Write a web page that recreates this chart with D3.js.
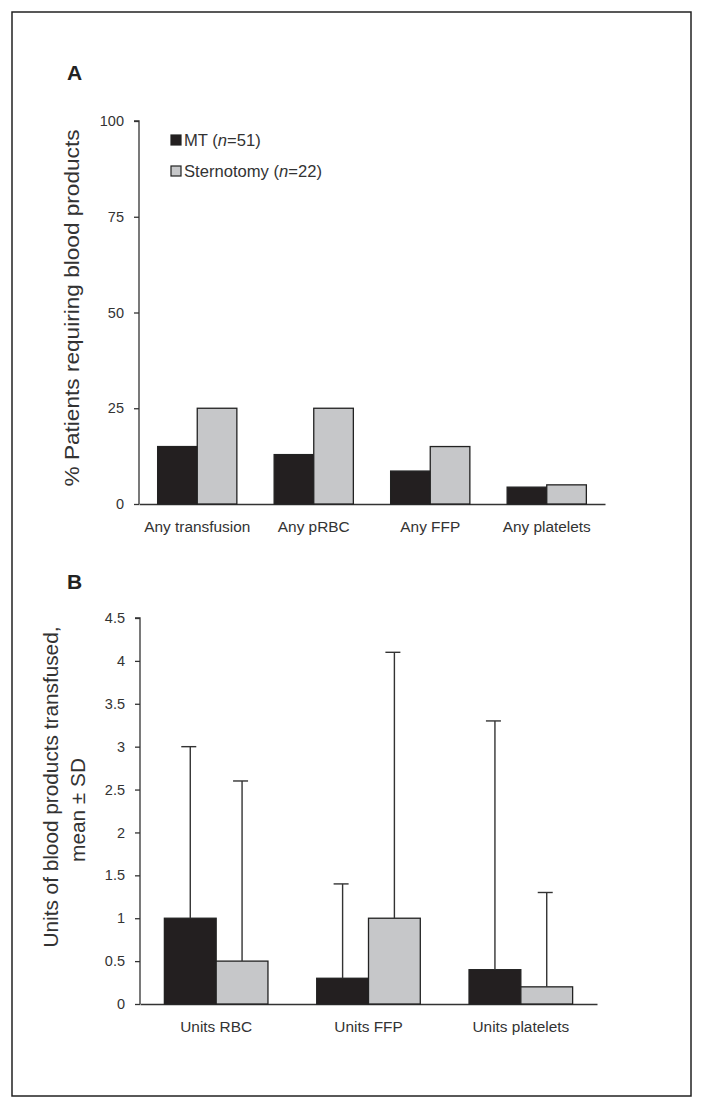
<!DOCTYPE html>
<html>
<head>
<meta charset="utf-8">
<script src="https://cdn.jsdelivr.net/npm/d3@7"></script>
<style>
  html, body { margin: 0; padding: 0; background: #fff; }
  svg { display: block; font-family: "Liberation Sans", Arial, sans-serif; }
</style>
</head>
<body>
<svg id="chart" width="704" height="1109"></svg>
<script>
// ---------- Data ----------
const seriesNames = ["MT", "Sternotomy"];
const seriesN = [51, 22];
const seriesColors = ["#231f20", "#c6c7c9"];

// Panel A
const catsA = ["Any transfusion", "Any pRBC", "Any FFP", "Any platelets"];
const mtA = [15, 12.9, 8.6, 4.4];
const sternA = [25, 25, 15, 5];
const ticksA = [0, 25, 50, 75, 100];

// Panel B
const catsB = ["Units RBC", "Units FFP", "Units platelets"];
const mtB = [1.0, 0.3, 0.4];
const sternB = [0.5, 1.0, 0.2];
const mtB_upper = [3.0, 1.4, 3.3];
const sternB_upper = [2.6, 4.1, 1.3];
const ticksB = [0, 0.5, 1, 1.5, 2, 2.5, 3, 3.5, 4, 4.5];

// ---------- Drawing ----------
const svg = d3.select("#chart");
const textColor = "#333";
const fontTick = 14.5;
const fontCat = 15.4;

// Border
svg.append("rect").attr("x", 12).attr("y", 12).attr("width", 679).attr("height", 1084)
  .attr("fill", "none").attr("stroke", "#222").attr("stroke-width", 1.5);

function panel(opts) {
  const { cats, s1, s2, ticks, domainMax, x0, x1, yTop, yBottom, fmt } = opts;
  const g = svg.append("g");
  const x = d3.scaleBand().domain(cats).range([x0, x1]).padding(0);
  const bw = x.bandwidth();
  const inner = d3.scaleBand().domain([0, 1]).range([bw * 0.16, bw * 0.84]).padding(0);
  const y = d3.scaleLinear().domain([0, domainMax]).range([yBottom, yTop]);

  // y axis
  const yAxis = d3.axisLeft(y).tickValues(ticks).tickSize(5).tickPadding(10).tickFormat(fmt);
  const ya = g.append("g").attr("transform", `translate(${x0},0)`).call(yAxis);
  ya.select(".domain").attr("stroke", "#333").attr("stroke-width", 1.3).attr("d", `M-5,${yTop}H0V${yBottom}`);
  ya.selectAll(".tick line").attr("stroke", "#333").attr("stroke-width", 1.3);
  ya.selectAll(".tick text").attr("fill", textColor).attr("font-size", fontTick)
    .attr("font-family", "Liberation Sans, Arial, sans-serif");

  // x axis
  const xAxis = d3.axisBottom(x).tickSize(0).tickPadding(17);
  const xa = g.append("g").attr("transform", `translate(0,${yBottom})`).call(xAxis);
  xa.select(".domain").attr("stroke", "#333").attr("stroke-width", 1.3);
  xa.selectAll(".tick text").attr("fill", textColor).attr("font-size", fontCat)
    .attr("font-family", "Liberation Sans, Arial, sans-serif");

  const series = [s1, s2];
  series.forEach((vals, si) => {
    g.append("g").selectAll("rect").data(cats).join("rect")
      .attr("x", c => x(c) + inner(si))
      .attr("y", (c, i) => y(vals[i]))
      .attr("width", inner.bandwidth())
      .attr("height", (c, i) => yBottom - y(vals[i]))
      .attr("fill", seriesColors[si])
      .attr("stroke", "#222").attr("stroke-width", 1.3);
  });
  return { g, x, y, inner };
}

// Panel A
const pA = panel({ cats: catsA, s1: mtA, s2: sternA, ticks: ticksA, domainMax: 100,
  x0: 139, x1: 605, yTop: 121, yBottom: 504, fmt: d3.format("d") });

svg.append("text").attr("x", 67).attr("y", 80).text("A")
  .attr("font-size", 21).attr("font-weight", "bold").attr("fill", "#222");

svg.append("text")
  .attr("transform", "translate(79,308) rotate(-90)")
  .attr("text-anchor", "middle").attr("font-size", 20).attr("fill", textColor)
  .attr("textLength", 357).attr("lengthAdjust", "spacingAndGlyphs")
  .text("% Patients requiring blood products");

// Legend
const legend = svg.append("g");
seriesNames.forEach((name, i) => {
  const ly = 135 + i * 31;
  legend.append("rect").attr("x", 171).attr("y", ly).attr("width", 10).attr("height", 10)
    .attr("fill", seriesColors[i]).attr("stroke", "#222").attr("stroke-width", 1.2);
  const t = legend.append("text").attr("x", 184).attr("y", ly + 11)
    .attr("font-size", 16.6).attr("fill", textColor);
  t.append("tspan").text(name + " (");
  t.append("tspan").attr("font-style", "italic").text("n");
  t.append("tspan").text("=" + seriesN[i] + ")");
});

// Panel B
const pB = panel({ cats: catsB, s1: mtB, s2: sternB, ticks: ticksB, domainMax: 4.5,
  x0: 140, x1: 597, yTop: 618, yBottom: 1004, fmt: d => d3.format("")(d) });

// Error bars (upward only)
[[mtB, mtB_upper], [sternB, sternB_upper]].forEach(([vals, ups], si) => {
  const eg = pB.g.append("g");
  catsB.forEach((c, i) => {
    const cx = pB.x(c) + pB.inner(si) + pB.inner.bandwidth() / 2;
    eg.append("line").attr("x1", cx).attr("x2", cx)
      .attr("y1", pB.y(vals[i])).attr("y2", pB.y(ups[i]))
      .attr("stroke", "#333").attr("stroke-width", 1.4);
    eg.append("line").attr("x1", cx - 9).attr("x2", cx + 6)
      .attr("y1", pB.y(ups[i])).attr("y2", pB.y(ups[i]))
      .attr("stroke", "#333").attr("stroke-width", 1.4);
  });
});

svg.append("text").attr("x", 67).attr("y", 589).text("B")
  .attr("font-size", 21).attr("font-weight", "bold").attr("fill", "#222");

svg.append("text")
  .attr("transform", "translate(58,787) rotate(-90)")
  .attr("text-anchor", "middle").attr("font-size", 20.8).attr("fill", textColor)
  .attr("textLength", 321).attr("lengthAdjust", "spacingAndGlyphs")
  .text("Units of blood products transfused,");
svg.append("text")
  .attr("transform", "translate(85,810) rotate(-90)")
  .attr("text-anchor", "middle").attr("font-size", 20.8).attr("fill", textColor)
  .text("mean ± SD");
</script>
</body>
</html>
